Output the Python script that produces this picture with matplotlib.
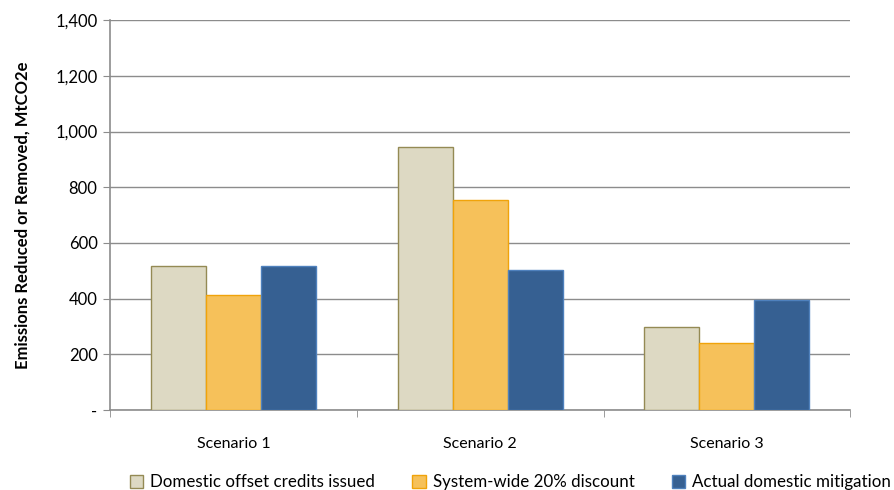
import matplotlib
matplotlib.use('Agg')
import matplotlib.pyplot as plt
import numpy as np
from matplotlib.ticker import FuncFormatter

scenarios = ['Scenario 1', 'Scenario 2', 'Scenario 3']
offset_credits = [517, 944, 298]
discounted = [413, 754, 240]
actual_mitigation = [517, 502, 395]

series = [
    ('Domestic offset credits issued', offset_credits, '#DDD9C3', '#948A54'),
    ('System-wide 20% discount', discounted, '#F6C15A', '#F0A30A'),
    ('Actual domestic mitigation', actual_mitigation, '#366092', '#4F81BD'),
]

plt.rcParams['font.family'] = ['Lato', 'DejaVu Sans']

fig = plt.figure(figsize=(8.95, 4.9), dpi=100)
ax = fig.add_axes([0.123, 0.163, 0.827, 0.796])

x = np.arange(len(scenarios))
width = 0.223
for i, (label, vals, fc, ec) in enumerate(series):
    ax.bar(x + (i - 1) * width, vals, width, color=fc, edgecolor=ec,
           linewidth=1, label=label, zorder=3)

ax.set_xlim(-0.5, len(scenarios) - 0.5)
ax.set_ylim(0, 1400)
ax.set_yticks(np.arange(0, 1401, 200))
ax.yaxis.set_major_formatter(FuncFormatter(lambda v, p: '-' if v == 0 else f'{int(v):,}'))
ax.grid(axis='y', color='#8C8C8C', linewidth=1, zorder=0)

ax.set_xticks(x)
ax.set_xticklabels(scenarios)
ax.set_xticks(np.arange(-0.5, len(scenarios)), minor=True)
ax.tick_params(axis='x', which='major', length=0, pad=19, labelsize=11.5)
ax.tick_params(axis='x', which='minor', length=5, color='#8C8C8C')
ax.tick_params(axis='y', length=5, color='#8C8C8C', labelsize=12, pad=4)

for s in ['top', 'right']:
    ax.spines[s].set_visible(False)
for s in ['left', 'bottom']:
    ax.spines[s].set_color('#8C8C8C')
    ax.spines[s].set_linewidth(1.2)

ax.set_ylabel('Emissions Reduced or Removed, MtCO2e', fontweight='bold', fontsize=12, labelpad=18)

fig.legend(loc='center right', bbox_to_anchor=(891 / 895, 1 - 482 / 490), ncol=3, frameon=False,
           fontsize=12.2, handlelength=0.8, handleheight=0.8, columnspacing=2.2,
           handletextpad=0.4, borderaxespad=0, borderpad=0)

fig.savefig('out.png', dpi=100)
